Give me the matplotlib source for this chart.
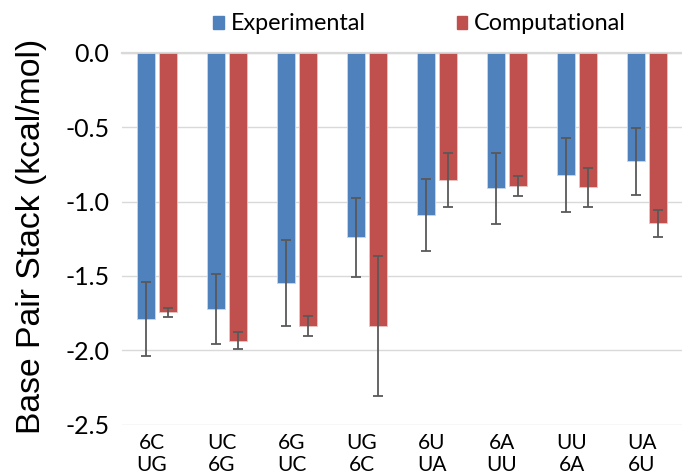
import numpy as np
import matplotlib
matplotlib.use("Agg")
import matplotlib.pyplot as plt
from matplotlib.patches import Patch
from matplotlib.transforms import ScaledTranslation

# values
pairs = ["6C\nUG", "UC\n6G", "6G\nUC", "UG\n6C", "6U\nUA", "6A\nUU", "UU\n6A", "UA\n6U"]
experimental = [-1.79, -1.72, -1.55, -1.24, -1.09, -0.91, -0.82, -0.73]
experimental_err = [0.25, 0.235, 0.29, 0.265, 0.245, 0.24, 0.25, 0.225]
computational = [-1.745, -1.935, -1.835, -1.835, -0.855, -0.895, -0.905, -1.145]
computational_err = [0.03, 0.06, 0.067, 0.47, 0.18, 0.07, 0.13, 0.09]
y_ticks = [0.0, -0.5, -1.0, -1.5, -2.0, -2.5]

blue = "#4F81BD"
red = "#C0504D"
calibri_like = ["Lato", "DejaVu Sans"]
arial_like = ["Liberation Sans", "DejaVu Sans"]

fig = plt.figure(figsize=(6.82, 4.76), dpi=100)
ax = fig.add_axes([122 / 682, (476 - 424.5) / 476, 560 / 682, (424.5 - 53) / 476])

x = np.arange(len(pairs))
w = 0.25
off = 0.155
err_style = dict(ecolor="#595959", elinewidth=1.3, capsize=3.3, capthick=1.3)

ax.bar(x - off, experimental, w, color=blue, edgecolor="#c9d7ea", linewidth=0.6,
       yerr=experimental_err, error_kw=err_style, zorder=3)
ax.bar(x + off, computational, w, color=red, edgecolor="#ebc4c3", linewidth=0.6,
       yerr=computational_err, error_kw=err_style, zorder=3)

ax.set_xlim(-0.5, len(pairs) - 0.5)
ax.set_ylim(-2.5, 0)
ax.set_yticks(y_ticks)
ax.set_yticklabels([f"{v:.1f}" for v in y_ticks], fontfamily=calibri_like, fontsize=18)
ax.set_xticks(x)
ax.set_xticklabels(pairs, fontfamily=calibri_like, fontsize=15, linespacing=1.12)
ax.tick_params(axis="x", length=0, pad=6)
ax.tick_params(axis="y", length=0, pad=9)
# category labels sit a few pixels left of the bar groups in the original
shift = ScaledTranslation(-5 / 100, 0, fig.dpi_scale_trans)
for lab in ax.get_xticklabels():
    lab.set_transform(lab.get_transform() + shift)

ax.grid(axis="y", color="#d9d9d9", linewidth=1.0, zorder=0)
for s in ["left", "right", "bottom"]:
    ax.spines[s].set_visible(False)
ax.spines["top"].set_color("#d9d9d9")
ax.spines["top"].set_linewidth(1.6)

ax.set_ylabel("Base Pair Stack (kcal/mol)", fontfamily=arial_like, fontsize=24.3)
ax.yaxis.set_label_coords((47 - 122) / 560, (476 - 236.5 - 51.5) / 371.5)

handles = [Patch(color=blue, label="Experimental"), Patch(color=red, label="Computational")]
fig.legend(handles=handles, loc="center", bbox_to_anchor=(419.5 / 682, 1 - 24 / 476), ncol=2,
           frameon=False, prop={"family": calibri_like, "size": 16.8},
           handlelength=0.46, handleheight=0.46, handletextpad=0.3, columnspacing=3.9)

fig.savefig("out.png", dpi=100)
